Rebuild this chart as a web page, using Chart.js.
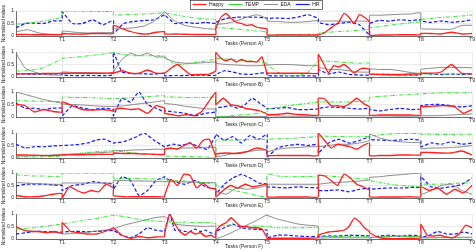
<!DOCTYPE html>
<html lang="en">
<head>
<meta charset="UTF-8">
<title>Normalized values per task</title>
<script src="https://cdn.jsdelivr.net/npm/chart.js"></script>
<style>
  html, body { margin: 0; padding: 0; background: #fff; overflow: hidden; }
  #wrap { position: relative; width: 476px; height: 252px; overflow: hidden; }
  #wrap canvas { position: absolute; }
</style>
</head>
<body>
<div id="wrap"></div>
<script>
// Categories / labels
const tasks = ['T1', 'T2', 'T3', 'T4', 'T5', 'T6', 'T7', 'T8', 'T9'];
const persons = ['Person A', 'Person B', 'Person C', 'Person D', 'Person E', 'Person F'];
const seriesNames = ['Happy', 'TEMP', 'EDA', 'HR'];
const yTicks = [0, 0.5, 1];
const yTickLabels = ['0', '0.5', '1'];

// One sub-array per task, values spread evenly across that task
const happyA = [[0.06,0.06,0.05,0.05,0.05,0.06],[0.1,0.08,0.08,0.1,0.1,0.1],[0.42,0.3,0.18,0.1,0.08,0.15,0.17],[0.08,0.08,0.07,0.06,0.06,0.06],[0.3,0.75,0.9,0.7,0.55,0.5,0.42,0.45,0.35,0.32,0.28],[0.04,0.04,0.04,0.04,0.04,0.04],[0.05,0.1,0.25,0.4,0.55,0.9,0.75,0.5,0.85,0.75,0.55],[0.04,0.04,0.04,0.05,0.05,0.05],[0.1,0.1,0.08,0.15,0.08,0.1]];
const tempA = [[0.47,0.52,0.57,0.65,0.75],[1.0,1.0,0.99,0.98,0.97],[0.84,0.85,0.87,0.88,0.9,0.93],[0.93,0.85,0.78,0.72,0.68,0.65],[0.35,0.32,0.28,0.24,0.2,0.15],[0.05,0.05,0.06,0.06,0.07,0.08],[0.12,0.15,0.18,0.2,0.23,0.27],[0.33,0.38,0.43,0.48,0.53,0.57],[0.66,0.7,0.74,0.77,0.8,0.84]];
const edaA = [[0.17,0.25,0.12,0.07,0.06],[0.2,0.15,0.12,0.13,0.15],[0.27,0.3,0.33,0.4,0.6,0.97],[0.97,0.6,0.42,0.35,0.3,0.28],[0.45,0.5,0.6,0.75,0.85,0.7],[0.6,0.58,0.55,0.55,0.58,0.62],[0.6,0.6,0.6,0.58,0.6,0.6],[0.82,0.83,0.85,0.87,0.88,0.92],[0.3,0.28,0.27,0.27,0.42,0.43]];
const hrA = [[0.33,0.5,0.52,0.5,0.6,0.62],[0.97,0.5,0.5,0.65,0.45,0.62],[0.1,0.5,0.58,0.62,0.65,0.85],[0.85,0.5,0.55,0.5,0.55,0.5],[0.55,0.7,0.75,0.75,0.75,0.72],[0.7,0.72,0.7,0.75,0.85,0.7],[0.55,0.45,0.5,0.55,0.45,0.05],[0.5,0.62,0.6,0.65,0.62,0.65],[0.6,0.55,0.6,0.55,0.58,0.65]];

const happyB = [[0.12,0.13,0.13,0.14,0.14,0.15],[0.15,0.15,0.15,0.15,0.15,0.17],[0.15,0.25,0.15,0.15,0.28,0.15,0.15],[0.15,0.35,0.5,0.3,0.1,0.1,0.1,0.12,0.25],[0.97,0.75,0.65,0.72,0.6,0.7,0.62,0.62,0.6,0.8,0.12],[0.15,0.15,0.15,0.15,0.15,0.15],[0.9,0.55,0.17,0.45,0.4,0.5,0.35,0.15,0.3,0.35,0.3],[0.12,0.1,0.1,0.1,0.12,0.12],[0.15,0.15,0.2,0.5,0.15,0.12]];
const tempB = [[0.24,0.25,0.3,0.37,0.55,0.72],[0.75,0.78,0.82,0.87,0.92,0.97],[0.97,0.9,0.85,0.85,0.85,0.84],[0.84,0.55,0.5,0.55,0.6,0.65,0.72],[0.75,0.72,0.68,0.65,0.62,0.55],[0.5,0.2,0.05,0.05,0.2,0.65],[0.65,0.63,0.6,0.57,0.55,0.55],[0.15,0.1,0.05,0.05,0.05,0.08],[0.1,0.12,0.12,0.12,0.12,0.13]];
const edaB = [[0.95,0.35,0.2,0.1,0.08,0.08],[0.2,0.18,0.18,0.17,0.15,0.15],[0.2,0.7,0.95,0.85,0.95,0.8,0.8],[0.75,0.6,0.55,0.55,0.58,0.6],[0.55,0.5,0.48,0.45,0.45,0.48],[0.48,0.5,0.5,0.48,0.45,0.45],[0.4,0.3,0.3,0.25,0.2,0.2],[0.32,0.3,0.3,0.25,0.18,0.15],[0.3,0.35,0.38,0.38,0.38,0.37]];
const hrB = [[0.13,0.12,0.12,0.12,0.12,0.12],[0.08,0.06,0.06,0.06,0.05,0.1],[1.0,0.2,0.15,0.13,0.12,0.12,0.15],[0.05,0.06,0.06,0.07,0.07,0.07],[0.1,0.25,0.2,0.12,0.1,0.15,0.17],[0.06,0.05,0.05,0.05,0.05,0.05],[0.3,0.12,0.2,0.1,0.08,0.08],[0.1,0.1,0.1,0.08,0.08,0.08],[0.15,0.12,0.1,0.12,0.1,0.12]];

const happyC = [[0.5,0.45,0.2,0.3,0.22,0.2],[0.6,0.45,0.3,0.28,0.3,0.25],[0.3,0.35,0.3,0.32,0.15,0.45,0.35],[0.15,0.1,0.05,0.1,0.05,0.2,0.6,1.0],[0.5,0.75,0.5,0.45,0.35,0.3,0.25,0.12],[0.1,0.1,0.15,0.1,0.08,0.08],[0.75,0.72,0.45,0.45,0.42,0.55,0.75,0.55,0.4],[0.08,0.08,0.08,0.08,0.08,0.08],[0.4,0.42,0.45,0.45,0.4,0.15,0.3]];
const tempC = [[0.65,0.65,0.63,0.63,0.62,0.62],[0.8,0.78,0.78,0.77,0.75,0.74],[0.74,0.75,0.78,0.8,0.83,0.86],[0.8,0.8,0.78,0.78,0.78,0.78],[0.0,0.03,0.07,0.1,0.14,0.2],[0.32,0.38,0.45,0.5,0.55,0.6],[0.6,0.6,0.6,0.6,0.62,0.65],[0.78,0.82,0.85,0.88,0.9,0.93],[0.93,0.95,0.97,0.97,0.96,0.98]];
const edaC = [[1.0,0.9,0.8,0.7,0.62,0.55],[0.52,0.5,0.48,0.45,0.43,0.42],[0.42,0.45,0.5,0.55,0.6,0.65],[0.55,0.5,0.43,0.38,0.33,0.3],[0.03,0.02,0.02,0.02,0.02,0.02],[0.05,0.04,0.03,0.03,0.03,0.04],[0.05,0.05,0.05,0.05,0.05,0.05],[0.05,0.04,0.04,0.03,0.03,0.04],[0.05,0.05,0.06,0.08,0.1,0.12]];
const hrC = [[0.55,0.35,0.35,0.3,0.35,0.35],[0.05,0.45,0.35,0.3,0.35,0.3],[0.05,0.75,0.6,1.0,0.5,0.35,0.2],[0.25,0.2,0.15,0.05,0.15,0.2],[0.35,0.4,0.45,0.35,0.5,0.75,0.55,0.35],[0.33,0.35,0.38,0.3,0.3,0.32],[0.35,0.4,0.38,0.35,0.32,0.35],[0.3,0.25,0.3,0.35,0.3,0.32],[0.45,0.5,0.5,0.45,0.4,0.45]];

const happyD = [[0.12,0.12,0.11,0.1,0.1,0.12],[0.12,0.13,0.13,0.14,0.15,0.15],[0.2,0.18,0.18,0.16,0.15,0.15],[0.35,0.4,0.35,0.5,0.6,0.4,0.7,0.75,0.05],[0.15,0.2,0.18,0.25,0.4,0.3],[0.1,0.1,0.1,0.1,0.1,0.1],[1.0,0.7,0.4,0.55,0.5,0.45,0.35,0.5,0.6],[0.1,0.1,0.1,0.12,0.12,0.12],[0.22,0.22,0.2,0.2,0.28,0.12]];
const tempD = [[0.03,0.04,0.04,0.05,0.06,0.08],[0.1,0.15,0.2,0.24,0.27,0.3],[0.28,0.25,0.2,0.17,0.13,0.1],[0.08,0.07,0.06,0.05,0.04,0.04],[0.7,0.72,0.72,0.73,0.74,0.75],[0.75,0.77,0.78,0.8,0.83,0.86],[0.88,0.87,0.86,0.85,0.85,0.86],[0.88,0.92,0.96,0.98,0.98,0.98],[0.95,0.95,0.94,0.94,0.93,0.93]];
const edaD = [[0.08,0.08,0.09,0.1,0.12,0.15],[0.15,0.16,0.18,0.2,0.22,0.25],[0.3,0.3,0.32,0.33,0.35,0.35],[0.35,0.38,0.4,0.4,0.42,0.42],[0.05,0.12,0.2,0.25,0.3,0.32],[0.25,0.35,0.4,0.42,0.45,0.45],[0.45,0.5,0.55,0.55,0.6,0.7],[0.95,0.8,0.7,0.65,0.62,0.6],[0.38,0.4,0.4,0.42,0.45,0.5]];
const hrD = [[0.55,0.4,0.45,0.45,0.48,0.5],[0.5,0.52,0.55,0.6,0.72,0.75,0.6],[0.6,0.65,0.8,1.0,0.7,0.45],[0.45,0.55,0.5,0.6,0.45,0.35,0.9],[0.95,0.7,0.85,0.6,0.9,0.75,0.95],[0.05,0.4,0.5,0.55,0.5,0.55],[0.2,0.6,0.75,0.6,0.7,0.85],[0.75,0.72,0.7,0.72,0.75,0.7],[0.45,0.6,0.55,0.65,0.55,0.6]];

const happyE = [[0.1,0.05,0.05,0.08,0.15,0.18],[0.0,0.45,0.3,0.2,0.3,0.25,0.55,0.4],[0.1,0.05,0.05,0.05,0.05,0.05],[0.1,0.75,0.5,0.95,0.9,0.4,0.6,0.4,0.35],[0.05,0.3,0.5,0.4,0.55,0.45,0.5,0.55],[0.05,0.04,0.04,0.04,0.04,0.05],[0.9,0.88,0.7,0.5,0.95,0.8,0.55,0.45,0.3],[0.05,0.04,0.04,0.04,0.05,0.05],[0.45,0.3,0.4,0.15,0.35,0.2,0.5]];
const tempE = [[0.92,0.9,0.88,0.88,0.86,0.85],[1.0,1.0,1.0,1.0,1.0,1.0],[0.8,0.78,0.78,0.77,0.76,0.75],[0.72,0.7,0.68,0.65,0.6,0.55],[0.5,0.38,0.28,0.2,0.1,0.05],[0.95,0.88,0.85,0.85,0.86,0.88],[0.9,0.88,0.85,0.8,0.78,0.75],[0.7,0.62,0.55,0.5,0.48,0.45],[0.55,0.55,0.56,0.58,0.6,0.6]];
const edaE = [[0.62,0.6,0.58,0.56,0.55,0.55],[0.6,0.6,0.6,0.6,0.6,0.6],[0.7,0.7,0.68,0.68,0.67,0.66],[0.65,0.65,0.64,0.63,0.62,0.6],[0.3,0.15,0.4,0.35,0.4,0.5],[0.55,0.55,0.55,0.55,0.55,0.55],[0.55,0.6,0.62,0.65,0.68,0.72],[0.82,0.85,0.9,0.93,0.97,1.0],[0.15,0.3,0.5,0.55,0.3,0.15]];
const hrE = [[0.48,0.55,0.55,0.55,0.52,0.5],[0.3,0.5,0.55,0.65,0.6,0.55],[0.35,0.85,0.7,0.1,0.3,0.7,0.85],[0.8,0.65,0.55,0.7,0.45,0.35],[0.15,0.55,0.8,0.95,0.8,0.6,0.55],[0.45,0.42,0.4,0.45,0.42,0.4],[0.3,0.3,0.32,0.25,0.35,0.4],[0.35,0.38,0.4,0.4,0.42,0.45],[0.85,0.45,0.4,0.45,0.55,0.8]];

const happyF = [[0.5,0.35,0.3,0.3,0.25,0.3,0.22],[0.65,0.3,0.25,0.2,0.2,0.3,0.45],[0.45,0.15,0.03,0.1,0.05,0.08,0.1],[0.2,1.0,0.6,0.3,0.15,0.3,0.2,0.25,0.1,0.15,0.05],[0.3,0.55,0.65,0.85,0.65,0.5,0.5,0.45,0.45,0.4,0.05],[0.03,0.03,0.03,0.03,0.03,0.05],[0.15,0.22,0.28,0.3,0.32,0.35,0.5,0.83,0.7,0.45,0.3],[0.25,0.05,0.02,0.02,0.03,0.05],[0.6,0.15,0.12,0.15,0.08,0.05,0.2,0.55,0.45]];
const tempF = [[0.4,0.42,0.45,0.5,0.55,0.6],[0.6,0.67,0.74,0.8,0.87,0.95],[0.95,0.9,0.82,0.75,0.72,0.7],[0.7,0.65,0.68,0.65,0.66,0.62],[0.55,0.55,0.55,0.52,0.52,0.5],[0.5,0.45,0.45,0.45,0.45,0.45],[0.1,0.1,0.1,0.1,0.1,0.1],[0.05,0.08,0.12,0.12,0.1,0.1],[0.05,0.05,0.05,0.05,0.05,0.06]];
const edaF = [[0.45,0.35,0.3,0.28,0.25,0.25],[0.2,0.22,0.25,0.3,0.35,0.4],[0.4,0.55,0.65,0.75,0.85,0.9],[0.9,0.6,0.55,0.52,0.5,0.5],[0.02,0.15,0.35,0.55,0.75,0.97],[0.95,0.8,0.7,0.6,0.55,0.5],[0.05,0.05,0.05,0.05,0.05,0.05],[0.05,0.08,0.1,0.12,0.1,0.1],[0.05,0.05,0.06,0.06,0.07,0.07]];
const hrF = [[0.2,0.25,0.3,0.3,0.28,0.28],[0.28,0.3,0.3,0.3,0.32,0.35],[0.35,0.15,0.05,0.2,0.45,0.35,0.3],[0.3,1.0,0.35,0.35,0.3,0.3,0.4,0.3,0.35,0.25,0.2],[0.3,0.45,0.6,0.45,0.4,0.38,0.35],[0.05,0.15,0.15,0.12,0.1,0.1],[0.1,0.12,0.12,0.15,0.14,0.12],[0.05,0.12,0.15,0.12,0.15,0.12],[0.05,0.15,0.3,0.2,0.2,0.28,0.2]];

const panels = [
  [happyA, tempA, edaA, hrA],
  [happyB, tempB, edaB, hrB],
  [happyC, tempC, edaC, hrC],
  [happyD, tempD, edaD, hrD],
  [happyE, tempE, edaE, hrE],
  [happyF, tempF, edaF, hrF]
];

// Look
const FONT = "'Liberation Sans', Arial, sans-serif";
const textColor = '#262626';
const gridColor = '#dedede';
const axisColor = '#4a4a4a';
const styles = [
  { color: '#ff2020', dash: [], width: 1.3 },
  { color: '#2ee02e', dash: [4, 1.5, 1, 1.5], width: 1.0 },
  { color: '#7d7d7d', dash: [], width: 0.9 },
  { color: '#1a1aff', dash: [3.5, 2], width: 1.25 }
];
const xStart = 0.1;

Chart.defaults.font.family = FONT;
Chart.defaults.color = textColor;

// spread each task's values over [task, task+1] on the x axis
function taskPoints(segments) {
  const pts = [];
  segments.forEach((seg, t) => {
    const x0 = t === 0 ? xStart : t;
    seg.forEach((v, i) => pts.push({ x: x0 + (t + 1 - x0) * i / (seg.length - 1), y: v }));
  });
  return pts;
}

const wrap = document.getElementById('wrap');
function addCanvas(left, top, w, h) {
  const c = document.createElement('canvas');
  c.width = w; c.height = h;
  c.style.left = left + 'px'; c.style.top = top + 'px';
  wrap.appendChild(c);
  return c;
}

panels.forEach((series, k) => {
  const canvas = addCanvas(0, Math.round(40.6 * k), 476, 48);
  new Chart(canvas, {
    type: 'line',
    data: {
      datasets: series.map((segs, j) => ({
        label: seriesNames[j],
        data: taskPoints(segs),
        borderColor: styles[j].color,
        borderDash: styles[j].dash,
        borderWidth: styles[j].width,
        pointRadius: 0,
        tension: 0.15,
        fill: false
      }))
    },
    options: {
      responsive: false,
      animation: false,
      events: [],
      layout: { padding: { top: 11, right: 4, left: 0, bottom: 0 } },
      plugins: { legend: { display: false }, tooltip: { enabled: false } },
      scales: {
        x: {
          type: 'linear', min: xStart, max: 9,
          afterBuildTicks: s => { s.ticks = tasks.map((t, i) => ({ value: i + 1 })); },
          afterFit: s => { s.height = 12; s.paddingLeft = 0; s.paddingRight = 0; },
          ticks: { callback: v => tasks[v - 1], font: { size: 5 }, padding: 1, maxRotation: 0, autoSkip: false },
          grid: { color: gridColor, lineWidth: 0.6, drawTicks: false },
          border: { color: axisColor, width: 0.8 },
          title: { display: true, text: 'Tasks (' + persons[k] + ')', font: { size: 5 }, padding: { top: 0, bottom: 1 } }
        },
        y: {
          min: 0, max: 1,
          afterBuildTicks: s => { s.ticks = yTicks.map(v => ({ value: v })); },
          afterFit: s => { s.width = 16; s.paddingTop = 0; s.paddingBottom = 0; },
          ticks: { callback: v => yTickLabels[yTicks.indexOf(v)], font: { size: 5 }, padding: 2 },
          grid: { color: gridColor, lineWidth: 0.6, drawTicks: false },
          border: { color: axisColor, width: 0.8 },
          title: { display: true, text: 'Normalized values', font: { size: 4.5 }, padding: { top: 1.3, bottom: 0 } }
        }
      }
    }
  });
});

// legend drawn by its own chart, framed like the original
const legendFrame = {
  id: 'legendFrame',
  afterDraw(chart) {
    const hb = chart.legend.legendHitBoxes;
    if (!hb || !hb.length) return;
    const ctx = chart.ctx;
    const x0 = hb[0].left - 2.5;
    const last = hb[hb.length - 1];
    const x1 = last.left + last.width + 2.5;
    const y0 = hb[0].top - 2;
    const y1 = hb[0].top + hb[0].height + 2;
    ctx.save();
    ctx.strokeStyle = '#333';
    ctx.lineWidth = 0.7;
    ctx.strokeRect(Math.round(x0) + 0.5, Math.round(y0) + 0.5, Math.round(x1 - x0), Math.round(y1 - y0));
    ctx.restore();
  }
};

new Chart(addCanvas(36, -3, 440, 40), {
  type: 'line',
  data: {
    datasets: seriesNames.map((name, j) => ({
      label: name, data: [],
      borderColor: styles[j].color, borderDash: styles[j].dash,
      borderWidth: styles[j].width, backgroundColor: 'transparent'
    }))
  },
  options: {
    responsive: false, animation: false, events: [],
    scales: { x: { display: false }, y: { display: false } },
    plugins: {
      tooltip: { enabled: false },
      legend: {
        display: true, position: 'top',
        labels: { usePointStyle: true, pointStyle: 'line', pointStyleWidth: 14, boxHeight: 5, padding: 5, font: { size: 5 }, color: '#111' }
      }
    }
  },
  plugins: [legendFrame]
});
</script>
</body>
</html>
